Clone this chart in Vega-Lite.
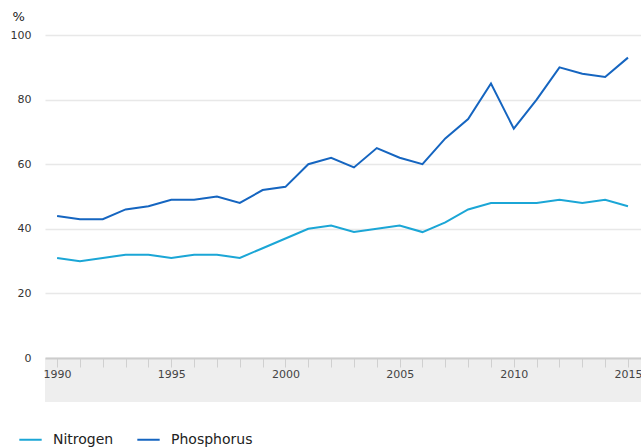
{
  "$schema": "https://vega.github.io/schema/vega-lite/v6.json",
  "autosize": {"type": "none"},
  "width": 596,
  "height": 367,
  "padding": {"left": 45, "top": 35, "right": 0, "bottom": 45},
  "config": {"view": {"stroke": null}, "font": "DejaVu Sans"},
  "data": {"values": [
    {"year":1990,"series":"Nitrogen","value":31},{"year":1991,"series":"Nitrogen","value":30},{"year":1992,"series":"Nitrogen","value":31},{"year":1993,"series":"Nitrogen","value":32},{"year":1994,"series":"Nitrogen","value":32},{"year":1995,"series":"Nitrogen","value":31},{"year":1996,"series":"Nitrogen","value":32},{"year":1997,"series":"Nitrogen","value":32},{"year":1998,"series":"Nitrogen","value":31},{"year":1999,"series":"Nitrogen","value":34},{"year":2000,"series":"Nitrogen","value":37},{"year":2001,"series":"Nitrogen","value":40},{"year":2002,"series":"Nitrogen","value":41},{"year":2003,"series":"Nitrogen","value":39},{"year":2004,"series":"Nitrogen","value":40},{"year":2005,"series":"Nitrogen","value":41},{"year":2006,"series":"Nitrogen","value":39},{"year":2007,"series":"Nitrogen","value":42},{"year":2008,"series":"Nitrogen","value":46},{"year":2009,"series":"Nitrogen","value":48},{"year":2010,"series":"Nitrogen","value":48},{"year":2011,"series":"Nitrogen","value":48},{"year":2012,"series":"Nitrogen","value":49},{"year":2013,"series":"Nitrogen","value":48},{"year":2014,"series":"Nitrogen","value":49},{"year":2015,"series":"Nitrogen","value":47},
    {"year":1990,"series":"Phosphorus","value":44},{"year":1991,"series":"Phosphorus","value":43},{"year":1992,"series":"Phosphorus","value":43},{"year":1993,"series":"Phosphorus","value":46},{"year":1994,"series":"Phosphorus","value":47},{"year":1995,"series":"Phosphorus","value":49},{"year":1996,"series":"Phosphorus","value":49},{"year":1997,"series":"Phosphorus","value":50},{"year":1998,"series":"Phosphorus","value":48},{"year":1999,"series":"Phosphorus","value":52},{"year":2000,"series":"Phosphorus","value":53},{"year":2001,"series":"Phosphorus","value":60},{"year":2002,"series":"Phosphorus","value":62},{"year":2003,"series":"Phosphorus","value":59},{"year":2004,"series":"Phosphorus","value":65},{"year":2005,"series":"Phosphorus","value":62},{"year":2006,"series":"Phosphorus","value":60},{"year":2007,"series":"Phosphorus","value":68},{"year":2008,"series":"Phosphorus","value":74},{"year":2009,"series":"Phosphorus","value":85},{"year":2010,"series":"Phosphorus","value":71},{"year":2011,"series":"Phosphorus","value":80},{"year":2012,"series":"Phosphorus","value":90},{"year":2013,"series":"Phosphorus","value":88},{"year":2014,"series":"Phosphorus","value":87},{"year":2015,"series":"Phosphorus","value":93}
  ]},
  "layer": [
    {
      "mark": {"type": "line", "strokeWidth": 2},
      "encoding": {
        "x": {
          "field": "year", "type": "quantitative",
          "scale": {"domain": [1989.47, 2015.57], "nice": false, "zero": false},
          "axis": {
            "title": null,
            "zindex": 2,
            "values": [1990,1991,1992,1993,1994,1995,1996,1997,1998,1999,2000,2001,2002,2003,2004,2005,2006,2007,2008,2009,2010,2011,2012,2013,2014,2015],
            "labelExpr": "datum.value % 5 === 0 ? datum.value : ''",
            "labelOverlap": false,
            "offset": -44,
            "grid": false,
            "domainColor": "#cccccc",
            "domainWidth": 2,
            "tickColor": "#d0d0d0",
            "tickSize": 9,
            "labelFontSize": 11,
            "labelColor": "#444444",
            "labelPadding": 1,
            "labelFlush": false
          }
        },
        "y": {
          "field": "value", "type": "quantitative",
          "scale": {"domain": [-13.6, 100], "nice": false, "zero": false},
          "axis": {
            "values": [0, 20, 40, 60, 80, 100],
            "title": "%",
            "titleAngle": 0,
            "titleAlign": "left",
            "titleBaseline": "middle",
            "titleX": -33,
            "titleY": -19,
            "titleFontSize": 13,
            "titleFontWeight": "normal",
            "titleColor": "#222222",
            "domain": false,
            "ticks": false,
            "labelPadding": 14,
            "labelFontSize": 11,
            "labelColor": "#333333",
            "gridColor": "#e8e8e8",
            "gridWidth": 1.5
          }
        },
        "color": {
          "field": "series", "type": "nominal",
          "scale": {"domain": ["Nitrogen", "Phosphorus"], "range": ["#1ba6d6", "#1565c0"]},
          "legend": {
            "title": null,
            "orient": "none",
            "legendX": -27,
            "legendY": 392,
            "direction": "horizontal",
            "symbolType": "stroke",
            "symbolStrokeWidth": 2,
            "symbolSize": 500,
            "labelFontSize": 14,
            "labelOffset": 10,
            "labelColor": "#222222",
            "columnPadding": 19
          }
        }
      }
    },
    {
      "mark": {"type": "rect", "color": "#eeeeee"},
      "encoding": {
        "x": {
          "datum": 1989.47, "type": "quantitative",
          "axis": {
            "title": null,
            "zindex": 2,
            "values": [1990,1991,1992,1993,1994,1995,1996,1997,1998,1999,2000,2001,2002,2003,2004,2005,2006,2007,2008,2009,2010,2011,2012,2013,2014,2015],
            "labelExpr": "datum.value % 5 === 0 ? datum.value : ''",
            "labelOverlap": false,
            "offset": -44,
            "grid": false,
            "domainColor": "#cccccc",
            "domainWidth": 2,
            "tickColor": "#d0d0d0",
            "tickSize": 9,
            "labelFontSize": 11,
            "labelColor": "#444444",
            "labelPadding": 1,
            "labelFlush": false
          }
        },
        "x2": {"datum": 2015.57},
        "y": {
          "datum": 0, "type": "quantitative",
          "axis": {
            "values": [0, 20, 40, 60, 80, 100],
            "title": "%",
            "titleAngle": 0,
            "titleAlign": "left",
            "titleBaseline": "middle",
            "titleX": -33,
            "titleY": -19,
            "titleFontSize": 13,
            "titleFontWeight": "normal",
            "titleColor": "#222222",
            "domain": false,
            "ticks": false,
            "labelPadding": 14,
            "labelFontSize": 11,
            "labelColor": "#333333",
            "gridColor": "#e8e8e8",
            "gridWidth": 1.5
          }
        },
        "y2": {"datum": -13.6}
      }
    }
  ]
}
